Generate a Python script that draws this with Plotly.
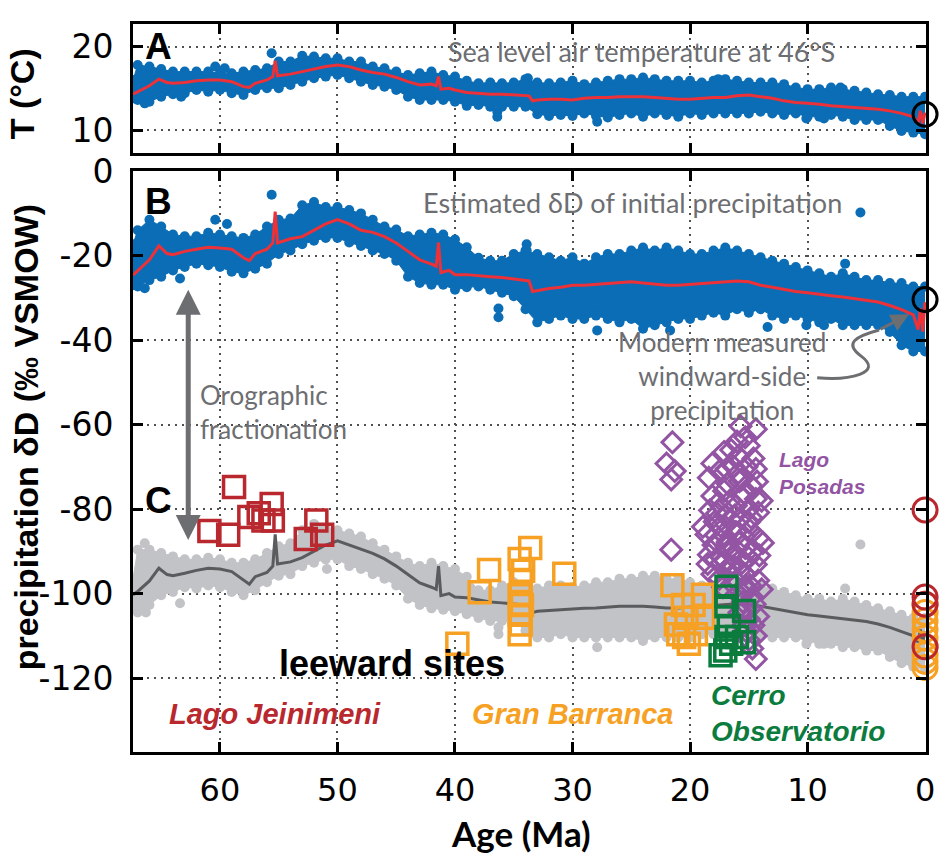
import plotly.graph_objects as go

# ---------------- data ----------------
LINE_AGE = [67.4, 67, 66, 65.2, 64.5, 64, 63, 62, 61, 60,
            59, 58, 57.5, 57, 56, 55.5, 55.3, 55.1, 54, 53,
            52, 51, 50, 49, 48, 47, 46, 45, 44, 43,
            42, 41.6, 41.4, 41.2, 40.5, 40, 39, 38, 37, 36,
            35, 34, 33.7, 33.4, 33, 32, 31, 30, 29, 28,
            27, 26, 25, 24, 23, 22, 21, 20, 19, 18,
            17, 16, 15, 14, 13, 12, 11, 10, 9, 8,
            7, 6, 5, 4, 3, 2, 1, 0.6, 0.4, 0.2, 0]

T_LINE = [14.3, 14.6, 15.3, 16.1, 15.7, 15.6, 15.7, 15.9, 16.0, 16.0,
          15.8, 15.2, 15.1, 15.6, 16.0, 16.4, 18.3, 16.5, 16.7, 17.0,
          17.3, 17.6, 17.8, 17.6, 17.2, 16.9, 16.7, 16.3, 15.8, 15.4,
          15.5, 15.3, 16.4, 14.9, 15.0, 14.8, 14.5, 14.4, 14.3, 14.3,
          14.2, 14.1, 14.1, 13.5, 13.6, 13.7, 13.7, 13.6, 13.8, 13.9,
          13.9, 14.0, 14.0, 14.0, 13.9, 13.8, 13.7, 13.7, 13.8, 13.9,
          13.9, 14.1, 14.2, 14.0, 13.8, 13.5, 13.3, 13.2, 13.1, 12.9,
          12.8, 12.7, 12.6, 12.5, 12.3, 12.0, 11.6, 10.9, 12.3, 10.8, 12.1]

DD_LINE = [-24.6, -23.5, -21.0, -17.7, -19.5, -19.8, -19.0, -18.5, -18.0, -18.2,
           -18.5, -20.5, -21.2, -19.5, -18.5, -17.0, -9.6, -17.0, -16.0, -15.5,
           -14.0, -12.5, -11.5, -12.5, -14.0, -14.5, -15.5, -17.0, -19.0, -21.0,
           -22.0, -22.5, -16.9, -24.0, -23.5, -24.5, -24.5, -24.8, -25.0, -25.2,
           -25.5, -25.8, -26.0, -28.5, -28.3, -27.8, -27.5, -27.0, -27.0, -26.8,
           -26.5, -26.3, -26.2, -26.5, -26.8, -27.0, -27.0, -26.8, -26.6, -26.5,
           -26.3, -26.0, -26.2, -27.0, -27.5, -28.0, -28.5, -28.8, -29.2, -29.5,
           -29.8, -30.2, -30.5, -31.0, -31.8, -32.8, -34.0, -37.5, -32.5, -38.0, -31.0]

LEE_LINE = [-100.3, -99.5, -97.0, -94.0, -95.5, -95.8, -95.2, -94.5, -94.0, -94.2,
            -94.8, -96.8, -97.8, -96.0, -95.0, -93.5, -86.0, -93.0, -92.5, -91.5,
            -90.0, -88.5, -87.5, -88.5, -89.5, -90.5, -91.8, -93.5, -95.5, -97.5,
            -98.5, -99.0, -93.5, -100.5, -100.0, -100.8, -101.0, -101.5, -102.0, -102.2,
            -102.5, -102.7, -102.8, -104.5, -104.2, -104.0, -103.8, -103.6, -103.5, -103.4,
            -103.2, -103.0, -103.0, -103.0, -103.2, -103.4, -103.4, -103.2, -103.0, -102.8,
            -102.6, -102.4, -102.5, -103.0, -103.5, -104.0, -104.5, -105.0, -105.3, -105.6,
            -106.0, -106.3, -106.6, -107.2, -108.0, -109.0, -110.0, -111.5, -108.5, -111.5, -109.0]

ENV_AGE = [67.4, 67, 66, 65, 64, 63, 62, 61, 60, 59,
           58, 57, 56, 55, 54, 53, 52, 51, 50, 49,
           48, 47, 46, 45, 44, 43, 42, 41, 40, 39,
           38, 37, 36, 35, 34, 33, 32, 31, 30, 29,
           28, 27, 26, 25, 24, 23, 22, 21, 20, 19,
           18, 17, 16, 15, 14, 13, 12, 11, 10, 9,
           8, 7, 6, 5, 4, 3, 2, 1, 0]

T_HI = [16.0, 17.8, 17.6, 17.3, 17.0, 17.0, 17.0, 17.0, 16.8, 16.8,
        17.0, 17.2, 17.4, 18.2, 18.2, 18.9, 18.8, 18.6, 18.6, 18.2,
        18.2, 17.6, 17.4, 17.0, 16.6, 16.8, 17.0, 16.6, 16.4, 15.9,
        15.6, 15.7, 15.6, 15.7, 16.1, 15.7, 15.6, 15.7, 15.9, 15.5,
        15.7, 15.9, 16.1, 16.1, 16.3, 16.1, 15.9, 15.9, 15.9, 15.7,
        15.9, 16.1, 15.9, 15.7, 15.7, 15.7, 15.5, 15.1, 14.9, 14.9,
        15.1, 14.9, 14.7, 14.5, 14.3, 14.2, 14.0, 14.0, 14.0]
T_LO = [13.8, 13.6, 13.4, 14.0, 14.3, 14.4, 14.8, 14.6, 14.8, 14.4,
        14.2, 14.8, 15.0, 15.0, 15.4, 15.8, 16.2, 16.4, 16.6, 16.2,
        15.8, 15.4, 15.2, 14.8, 14.0, 13.6, 13.6, 13.6, 13.4, 12.9,
        13.0, 12.8, 12.8, 12.8, 12.8, 11.9, 11.7, 11.8, 11.7, 12.0,
        11.7, 11.5, 11.8, 12.0, 11.6, 12.0, 11.8, 11.6, 12.0, 11.8,
        12.0, 12.0, 12.0, 12.0, 12.2, 12.0, 11.8, 12.0, 11.6, 11.6,
        11.8, 11.6, 11.2, 11.2, 11.2, 10.5, 9.9, 9.7, 9.5]

DD_HI = [-17.3, -14.0, -11.5, -13.1, -15.0, -15.4, -15.4, -14.6, -15.0, -15.4,
         -15.8, -15.0, -13.1, -11.5, -11.2, -8.1, -7.3, -8.5, -8.5, -9.2,
         -10.0, -11.5, -13.1, -13.8, -15.4, -15.0, -14.6, -15.0, -16.2, -18.0,
         -20.5, -21.2, -21.2, -19.6, -18.8, -19.6, -20.4, -21.2, -20.4, -21.9,
         -20.4, -19.6, -19.6, -18.8, -18.1, -18.8, -18.1, -18.8, -19.6, -19.6,
         -18.8, -18.1, -18.8, -19.6, -20.4, -21.2, -21.9, -22.7, -23.5, -24.2,
         -25.0, -24.2, -25.0, -25.8, -25.8, -26.5, -26.5, -27.3, -27.3]
DD_LO = [-27.0, -27.3, -25.8, -25.0, -23.5, -22.7, -21.9, -22.3, -22.7, -23.8,
         -24.2, -23.1, -21.9, -19.6, -18.8, -17.3, -16.5, -15.8, -15.8, -16.9,
         -17.7, -18.8, -19.6, -21.2, -25.0, -26.5, -26.9, -26.9, -28.1, -27.5,
         -27.3, -28.1, -28.8, -29.6, -32.7, -35.8, -35.0, -34.2, -35.0, -35.0,
         -34.2, -35.0, -35.8, -35.0, -37.3, -36.5, -35.8, -35.0, -35.0, -34.2,
         -33.5, -34.2, -32.7, -33.5, -32.7, -34.2, -35.0, -34.2, -35.0, -35.8,
         -35.0, -36.5, -36.5, -36.5, -36.5, -38.1, -41.2, -42.7, -42.7]

LEE_HI = [-96.5, -89.6, -89.6, -90.4, -91.2, -91.9, -91.9, -91.5, -91.9, -92.7,
          -92.7, -91.9, -90.4, -88.8, -88.1, -85.0, -83.5, -84.6, -85.0, -85.8,
          -86.5, -88.1, -89.6, -91.2, -92.7, -93.5, -92.7, -93.5, -94.2, -96.0,
          -99.2, -99.2, -98.1, -97.3, -98.1, -98.8, -98.1, -98.1, -98.5, -98.1,
          -97.3, -97.3, -96.5, -96.5, -95.8, -95.8, -96.5, -96.5, -97.3, -98.1,
          -98.1, -97.3, -97.3, -97.3, -98.1, -98.8, -99.6, -100.4, -101.2, -101.2,
          -101.9, -101.2, -101.9, -102.7, -103.5, -104.2, -105.0, -105.8, -105.8]
LEE_LO = [-103.5, -104.5, -102.7, -100.4, -99.6, -98.5, -98.8, -98.1, -98.5, -99.6,
          -100.4, -99.2, -97.3, -95.8, -95.4, -93.5, -92.7, -91.9, -91.9, -93.5,
          -94.2, -95.4, -96.5, -98.1, -101.2, -102.7, -103.5, -103.8, -104.2, -104.9,
          -105.8, -106.5, -106.5, -106.5, -108.8, -110.4, -110.4, -109.6, -110.4, -110.4,
          -110.4, -110.4, -110.4, -110.4, -111.2, -110.4, -110.4, -110.4, -110.4, -109.6,
          -109.6, -109.6, -108.8, -108.8, -109.6, -110.4, -110.4, -110.4, -111.2, -111.9,
          -111.9, -112.7, -112.7, -113.5, -113.5, -115.0, -116.5, -117.3, -118.1]

T_OUT_AGE = [55.6, 60.4, 59.6, 63.3, 66.4, 33.8, 36.4, 36.4, 27.9, 17.6, 7.2, 10.1, 8.6]
T_OUT = [19.2, 17.6, 17.4, 14.0, 13.2, 16.2, 12.2, 11.6, 11.0, 16.1, 15.1, 11.4, 11.4]
DD_OUT_AGE = [55.6, 60.4, 59.4, 63.4, 66.4, 33.9, 33.9, 36.3, 36.3, 27.9, 5.5, 6.8, 10.1, 8.6, 13.4, 21.7]
DD_OUT = [-5.6, -11.5, -12.5, -25.4, -27.7, -17.3, -18.8, -32.5, -34.6, -37.7, -9.8, -21.9, -36.5, -36.5, -36.9, -37.7]
LEE_OUT_AGE = [66.4, 66.3, 63.4, 50.9, 5.5, 36.3, 36.3, 27.9, 6.8, 10.1, 8.6]
LEE_OUT = [-88.1, -104.5, -102.3, -94.2, -88.4, -108.0, -109.6, -112.7, -98.8, -111.9, -111.9]

JEIN_AGE = [58.8, 60.9, 59.3, 57.5, 56.7, 56.3, 55.6, 55.5, 52.7, 51.8, 51.3]
JEIN_DD = [-74.8, -85.2, -86.1, -81.9, -81.0, -82.7, -78.8, -82.7, -87.1, -82.7, -86.1]

GB_AGE = [39.8, 37.9, 37.1, 33.6, 34.5, 34.2, 34.4, 34.5, 34.3, 34.5, 34.4, 34.5, 30.7,
          21.5, 18.9, 20.6, 20.3, 21.2, 18.9, 20.5, 20.1, 19.5, 21.0, 19.7]
GB_DD = [-111.9, -99.7, -94.4, -89.2, -91.8, -94.6, -97.0, -100.4, -102.7, -105.0, -107.3, -109.6, -95.3,
         -98.0, -100.3, -102.7, -105.7, -107.3, -105.7, -110.3, -111.9, -109.6, -109.6, -102.7]

CO_AGE = [16.9, 16.9, 16.9, 15.4, 16.7, 16.9, 15.4, 17.4, 16.5, 16.0, 17.0]
CO_DD = [-98.4, -100.7, -103.0, -104.1, -107.7, -110.3, -111.5, -114.6, -111.9, -110.3, -113.5]

LP_AGE = [21.5, 22.0, 21.3, 21.6, 21.6,
          15.7, 14.4, 15.0, 15.3, 17.1, 15.9, 14.6, 18.1, 16.3, 14.4,
          17.5, 18.4, 15.8, 16.8, 14.8, 17.1, 18.1, 15.3, 14.4, 16.6,
          17.6, 16.1, 15.0, 18.3, 14.2, 17.0, 15.7, 16.5, 15.0, 18.9,
          17.4, 16.1, 17.8, 14.2, 15.4, 16.8, 18.0, 15.3, 14.6, 18.4,
          16.2, 17.4, 17.0, 14.4, 15.6, 18.1, 15.8, 16.8, 14.2, 17.5,
          16.4, 15.2, 14.7, 16.0, 15.5, 15.3, 14.2, 15.0, 15.5, 14.4,
          15.0, 14.7, 14.4, 13.9, 13.8, 13.9, 16.6, 17.7, 15.9, 16.9,
          16.0, 15.2, 16.9, 15.6, 17.3, 16.2, 14.9, 17.0, 15.8, 16.6,
          15.0, 17.8, 16.3, 15.3, 17.2, 16.1, 14.9, 15.7, 14.5, 15.8,
          14.6, 15.2, 15.6, 14.8, 18.6, 18.5, 17.9, 14.3, 14.1, 16.5]
LP_DD = [-64.2, -69.2, -71.0, -73.0, -89.6,
         -60.4, -61.1, -65.0, -63.0, -66.5, -67.5, -68.0, -69.2, -69.9, -70.5,
         -71.0, -72.6, -73.4, -74.0, -74.5, -75.7, -76.9, -76.5, -77.6, -78.0,
         -78.5, -79.2, -80.0, -80.3, -80.8, -81.5, -82.0, -82.5, -83.1, -84.2,
         -84.0, -85.4, -86.2, -86.9, -86.5, -87.8, -88.5, -89.2, -89.8, -90.8,
         -90.5, -91.2, -92.3, -93.1, -92.8, -95.4, -94.6, -95.0, -96.9, -96.5,
         -97.7, -98.5, -100.8, -100.0, -102.0, -103.8, -105.4, -106.0, -107.7, -110.0,
         -111.0, -113.0, -115.5, -78.0, -88.0, -99.0, -93.5, -81.0, -71.5, -89.0,
         -64.0, -70.0, -70.5, -77.0, -79.5, -81.5, -85.0, -86.5, -88.0, -89.5,
         -91.5, -92.0, -93.5, -95.5, -98.5, -97.0, -98.0, -99.5, -102.5, -104.5,
         -107.5, -109.0, -73.0, -82.0, -86.0, -93.0, -83.0, -73.5, -91.0, -66.0]

MOD_T = [11.9]
MOD_DD = [-30.4]
JEIN_MOD = [-80.2, -100.8, -102.5, -112.6]
GB_MOD = [-102.5, -104.5, -106.5, -108.5, -110.5, -112.5, -114.5, -116.0, -117.5]

X_TICKS = [0, 10, 20, 30, 40, 50, 60]
T_TICKS = [10, 20]
DD_TICKS = [-120, -100, -80, -60, -40, -20, 0]

# ---------------- style ----------------
BLUE = '#0b6db5'
RED_LINE = '#ec3238'
GRAY_DOT = '#c2c3c7'
GRAY_LINE = '#5a5b5d'
C_JEIN = '#b8282e'
C_GB = '#f6a124'
C_CO = '#0c7c3e'
C_LP = '#9355a3'
ANN_GRAY = '#6d6e71'

fig = go.Figure()


def band(age, hi, lo, color, xa, ya, msize=10):
    fig.add_trace(go.Scatter(x=age, y=hi, mode='lines+markers', xaxis=xa, yaxis=ya,
                             line=dict(color=color, width=1), marker=dict(color=color, size=msize),
                             hoverinfo='skip'))
    fig.add_trace(go.Scatter(x=age, y=lo, mode='lines+markers', xaxis=xa, yaxis=ya,
                             fill='tonexty', fillcolor=color,
                             line=dict(color=color, width=1), marker=dict(color=color, size=msize),
                             hoverinfo='skip'))


# Panel A
band(ENV_AGE, T_HI, T_LO, BLUE, 'x2', 'y2')
fig.add_trace(go.Scatter(x=T_OUT_AGE, y=T_OUT, mode='markers', xaxis='x2', yaxis='y2',
                         marker=dict(color=BLUE, size=10)))
fig.add_trace(go.Scatter(x=LINE_AGE, y=T_LINE, mode='lines', xaxis='x2', yaxis='y2',
                         line=dict(color=RED_LINE, width=3)))
fig.add_trace(go.Scatter(x=[0], y=MOD_T, mode='markers', xaxis='x2', yaxis='y2', cliponaxis=False,
                         marker=dict(symbol='circle-open', size=24, color='black', line=dict(width=3))))

# Panel B
band(ENV_AGE, DD_HI, DD_LO, BLUE, 'x', 'y')
fig.add_trace(go.Scatter(x=DD_OUT_AGE, y=DD_OUT, mode='markers', xaxis='x', yaxis='y',
                         marker=dict(color=BLUE, size=10)))
fig.add_trace(go.Scatter(x=LINE_AGE, y=DD_LINE, mode='lines', xaxis='x', yaxis='y',
                         line=dict(color=RED_LINE, width=3)))
fig.add_trace(go.Scatter(x=[0], y=MOD_DD, mode='markers', xaxis='x', yaxis='y', cliponaxis=False,
                         marker=dict(symbol='circle-open', size=24, color='black', line=dict(width=3))))

# Panel C
band(ENV_AGE, LEE_HI, LEE_LO, GRAY_DOT, 'x', 'y')
fig.add_trace(go.Scatter(x=LEE_OUT_AGE, y=LEE_OUT, mode='markers', xaxis='x', yaxis='y',
                         marker=dict(color=GRAY_DOT, size=10)))
fig.add_trace(go.Scatter(x=LINE_AGE, y=LEE_LINE, mode='lines', xaxis='x', yaxis='y',
                         line=dict(color=GRAY_LINE, width=3)))

fig.add_trace(go.Scatter(x=LP_AGE, y=LP_DD, mode='markers', xaxis='x', yaxis='y',
                         marker=dict(symbol='diamond-open', size=16, color=C_LP, line=dict(width=3))))
fig.add_trace(go.Scatter(x=GB_AGE, y=GB_DD, mode='markers', xaxis='x', yaxis='y',
                         marker=dict(symbol='square-open', size=21, color=C_GB, line=dict(width=3.5))))
fig.add_trace(go.Scatter(x=CO_AGE, y=CO_DD, mode='markers', xaxis='x', yaxis='y',
                         marker=dict(symbol='square-open', size=21, color=C_CO, line=dict(width=3.5))))
fig.add_trace(go.Scatter(x=JEIN_AGE, y=JEIN_DD, mode='markers', xaxis='x', yaxis='y',
                         marker=dict(symbol='square-open', size=21, color=C_JEIN, line=dict(width=3.5))))
fig.add_trace(go.Scatter(x=[0] * len(GB_MOD), y=GB_MOD, mode='markers', xaxis='x', yaxis='y', cliponaxis=False,
                         marker=dict(symbol='circle-open', size=24, color=C_GB, line=dict(width=3))))
fig.add_trace(go.Scatter(x=[0] * len(JEIN_MOD), y=JEIN_MOD, mode='markers', xaxis='x', yaxis='y', cliponaxis=False,
                         marker=dict(symbol='circle-open', size=24, color=C_JEIN, line=dict(width=3))))

# ---------------- axes ----------------
TICKFONT_Y = dict(family='DejaVu Sans', size=33, color='black')
TICKFONT_X = dict(family='DejaVu Sans', size=32, color='black')
common = dict(ticks='inside', ticklen=10, tickwidth=3, tickcolor='black', showline=True, linewidth=3,
              linecolor='black', mirror='ticks', showgrid=True, gridcolor='#505050', griddash='2px,5px',
              gridwidth=2, zeroline=False)

fig.update_layout(
    width=940, height=854, margin=dict(l=133, r=13, t=5, b=102),
    plot_bgcolor='white', paper_bgcolor='white', showlegend=False,
    xaxis=dict(domain=[0, 1], anchor='y', range=[67.4, -0.08], tickvals=X_TICKS,
               tickfont=TICKFONT_X, ticklabelstandoff=8, **common),
    xaxis2=dict(domain=[0, 1], anchor='y2', matches='x', range=[67.4, -0.08], tickvals=X_TICKS,
                showticklabels=False, **common),
    yaxis=dict(domain=[0, 0.7979], anchor='x', range=[-137.5, 0], tickvals=DD_TICKS,
               ticktext=[str(v) for v in DD_TICKS], tickfont=TICKFONT_Y, ticklabelstandoff=10, **common),
    yaxis2=dict(domain=[0.8233, 1], anchor='x2', range=[7.3, 22.7], tickvals=T_TICKS,
                ticktext=[str(v) for v in T_TICKS], tickfont=TICKFONT_Y, ticklabelstandoff=10, **common),
)

# ---------------- annotations ----------------
anns = []


def txt(x, y, text, font, xref='x', yref='y', xanchor='center', yanchor='middle', angle=0, align='center'):
    anns.append(dict(x=x, y=y, xref=xref, yref=yref, text=text, showarrow=False, font=font,
                     xanchor=xanchor, yanchor=yanchor, textangle=angle, align=align))


BIGBOLD = dict(family='Liberation Sans', size=37, color='black')
GRAYF = dict(family='Lato', size=26, color=ANN_GRAY)

txt(65.27, 20.0, '<b>A</b>', BIGBOLD, 'x2', 'y2')
txt(65.27, -7.2, '<b>B</b>', BIGBOLD)
txt(65.27, -78.0, '<b>C</b>', BIGBOLD)
txt(24.1, 19.4, 'Sea level air temperature at 46°S', dict(family='Lato', size=27, color=ANN_GRAY), 'x2', 'y2')
txt(24.9, -7.4, 'Estimated δD of initial precipitation', dict(family='Lato', size=27, color=ANN_GRAY))
txt(61.87, -57.0, 'Orographic<br>fractionation', GRAYF, xanchor='left', align='left')
txt(17.25, -48.6, 'Modern measured<br>windward-side<br>precipitation', GRAYF)
txt(45.4, -116.5, '<b>leeward sites</b>', dict(family='Liberation Sans', size=36, color='black'))
txt(55.3, -128.5, '<b><i>Lago Jeinimeni</i></b>', dict(family='Liberation Sans', size=29, color=C_JEIN))
txt(30.0, -128.5, '<b><i>Gran Barranca</i></b>', dict(family='Liberation Sans', size=29, color=C_GB))
txt(18.36, -128.3, '<b><i>Cerro<br>Observatorio</i></b>', dict(family='Liberation Sans', size=28, color=C_CO),
    xanchor='left', align='left')
txt(12.58, -71.4, '<b><i>Lago<br>Posadas</i></b>', dict(family='Liberation Sans', size=21, color=C_LP),
    xanchor='left', align='left')

# axis titles (paper coords: px -> paper)
W_PLOT, H_PLOT = 794.0, 747.0
txt((22 - 133) / W_PLOT, (752 - 77) / H_PLOT, '<b>T (°C)</b>',
    dict(family='Liberation Sans', size=34, color='black'), 'paper', 'paper', angle=-90)
txt((26 - 133) / W_PLOT, (752 - 429) / H_PLOT, '<b>precipitation δD (‰ VSMOW)</b>',
    dict(family='Liberation Sans', size=34, color='black'), 'paper', 'paper', angle=-90)
txt((521 - 133) / W_PLOT, (752 - 835) / H_PLOT, '<b>Age (Ma)</b>',
    dict(family='Lato', size=35, color='black'), 'paper', 'paper')

# double arrow for orographic fractionation
anns.append(dict(x=62.7, y=-28.1, ax=62.7, ay=-87.7, xref='x', yref='y', axref='x', ayref='y',
                 text='', showarrow=True, arrowhead=2, startarrowhead=2, arrowside='end+start',
                 arrowsize=1.0, startarrowsize=1.0, arrowwidth=5, arrowcolor=ANN_GRAY))
# curved arrow head
anns.append(dict(x=1.36, y=-33.9, ax=3.91, ay=-37.6, xref='x', yref='y', axref='x', ayref='y',
                 text='', showarrow=True, arrowhead=2, arrowsize=1.2, arrowwidth=3, arrowcolor=ANN_GRAY))
fig.update_layout(annotations=anns)

fig.add_shape(type='path', xref='x', yref='y',
              path='M 9.18,-48.9 C 6.46,-49.6 3.48,-47.8 5.44,-43.8 C 6.88,-40.8 6.03,-39.2 3.91,-37.6',
              line=dict(color=ANN_GRAY, width=3))

fig.write_html('out.html')
